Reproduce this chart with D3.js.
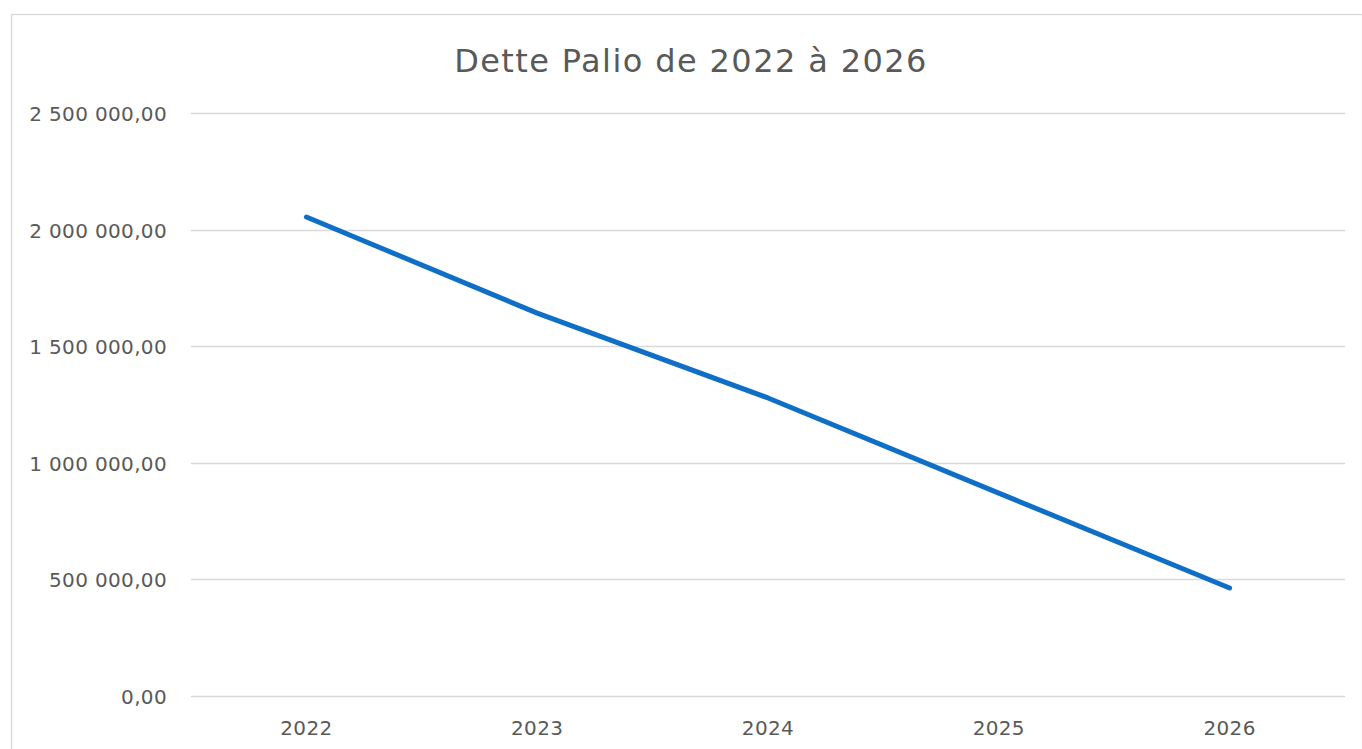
<!DOCTYPE html>
<html>
<head>
<meta charset="utf-8">
<script src="https://cdn.jsdelivr.net/npm/d3@7"></script>
<style>
  body { margin: 0; background: #fff; }
  svg text { font-family: "DejaVu Sans", sans-serif; fill: #595959; }
</style>
</head>
<body>
<div id="chart"></div>
<script>
let width = 1362;
let height = 749;

let years = ['2022', '2023', '2024', '2025', '2026'];
let dette = [2054000, 1642000, 1278000, 870000, 463000];
let yTicks = [0, 500000, 1000000, 1500000, 2000000, 2500000];

let margin = {top: 113, right: 17, bottom: 53, left: 191};

let svg = d3.select('#chart')
    .append('svg')
    .attr('width', width)
    .attr('height', height);

// chart area border
svg.append('rect')
    .attr('x', 11.5).attr('y', 14.5)
    .attr('width', width - 11).attr('height', height)
    .attr('fill', 'white')
    .attr('stroke', '#d9d9d9')
    .attr('stroke-width', 1.3);

let x = d3.scaleBand()
    .domain(years)
    .range([margin.left, width - margin.right]);

let y = d3.scaleLinear()
    .domain([0, 2500000])
    .range([height - margin.bottom, margin.top]);

// french style number format
let fr = d3.formatLocale({decimal: ',', thousands: '\u00a0', grouping: [3], currency: ['', ' €']});
let fmt = fr.format(',.2f');

// gridlines
svg.append('g')
    .selectAll('line')
    .data(yTicks)
    .enter().append('line')
    .attr('x1', margin.left)
    .attr('x2', width - margin.right)
    .attr('y1', d => Math.round(y(d)) + 0.5)
    .attr('y2', d => Math.round(y(d)) + 0.5)
    .attr('stroke', '#d9d9d9')
    .attr('stroke-width', 1.3);

// y labels
svg.append('g')
    .selectAll('text')
    .data(yTicks)
    .enter().append('text')
    .attr('x', 167)
    .attr('y', d => y(d) + 8)
    .attr('text-anchor', 'end')
    .style('font-size', '20px')
    .style('letter-spacing', '0.35px')
    .text(d => fmt(d));

// x labels
svg.append('g')
    .selectAll('text')
    .data(years)
    .enter().append('text')
    .attr('x', d => x(d) + x.bandwidth() / 2)
    .attr('y', 735)
    .attr('text-anchor', 'middle')
    .style('font-size', '20px')
    .style('letter-spacing', '0.35px')
    .text(d => d);

// line
let line = d3.line()
    .x((d, i) => x(years[i]) + x.bandwidth() / 2)
    .y(d => y(d));

svg.append('path')
    .datum(dette)
    .attr('d', line)
    .attr('fill', 'none')
    .attr('stroke', '#0F6FC6')
    .attr('stroke-width', 5)
    .attr('stroke-linecap', 'round')
    .attr('stroke-linejoin', 'round');

// title
svg.append('text')
    .attr('x', 691)
    .attr('y', 72)
    .attr('text-anchor', 'middle')
    .style('font-size', '32px')
    .style('letter-spacing', '1.4px')
    .text('Dette Palio de 2022 à 2026');
</script>
</body>
</html>
